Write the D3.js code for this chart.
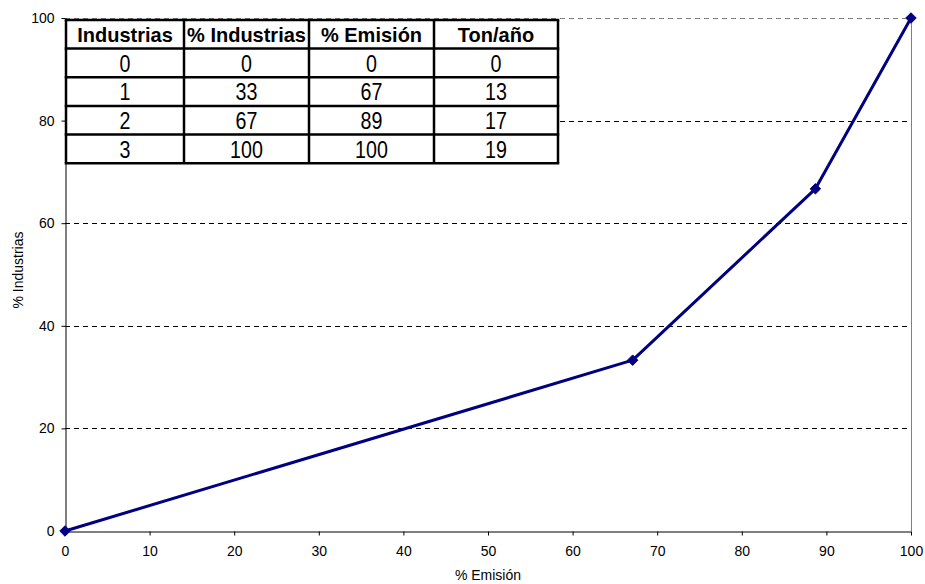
<!DOCTYPE html>
<html>
<head>
<meta charset="utf-8">
<script src="https://cdn.jsdelivr.net/npm/d3@7"></script>
<style>
  html, body { margin: 0; padding: 0; background: #fff; }
  svg { display: block; font-family: "Liberation Sans", Arial, sans-serif; }
</style>
</head>
<body>
<svg id="chart" width="925" height="584"></svg>
<script>
// Cumulative curve: % of emission vs % of industries
const emissionPct = [0, 67.1, 88.7, 100];
const industryPct = [0, 33.3, 66.7, 100];

// Summary table
const tableHeader = ["Industrias", "% Industrias", "% Emisión", "Ton/año"];
const colIndustrias = ["0", "1", "2", "3"];
const colPctIndustrias = ["0", "33", "67", "100"];
const colPctEmision = ["0", "67", "89", "100"];
const colTonAnio = ["0", "13", "17", "19"];

const xTicks = [0, 10, 20, 30, 40, 50, 60, 70, 80, 90, 100];
const yTicks = [0, 20, 40, 60, 80, 100];

const svg = d3.select("#chart");
const plotL = 65, plotR = 911, plotT = 18, plotB = 531;

const x = d3.scaleLinear().domain([0, 100]).range([plotL, plotR]);
const y = d3.scaleLinear().domain([0, 100]).range([plotB, plotT]);

// dashed horizontal gridlines
svg.append("g").selectAll("line")
  .data(yTicks.filter(d => d > 0))
  .join("line")
  .attr("x1", plotL).attr("x2", plotR)
  .attr("y1", d => Math.round(y(d)) + 0.5).attr("y2", d => Math.round(y(d)) + 0.5)
  .attr("stroke", d => d === 100 ? "#808080" : "#000")
  .attr("stroke-width", 1)
  .attr("stroke-dasharray", "5,4");

// right frame edge
svg.append("line")
  .attr("x1", plotR + 0.5).attr("x2", plotR + 0.5)
  .attr("y1", plotT).attr("y2", plotB)
  .attr("stroke", "#808080");

// axes
const xAxis = svg.append("g")
  .attr("transform", `translate(0,${Math.round(plotB) + 0.5})`)
  .call(d3.axisBottom(x).tickValues(xTicks).tickSize(4).tickPadding(11).tickSizeOuter(0));
const yAxis = svg.append("g")
  .attr("transform", `translate(${plotL + 0.5},0)`)
  .call(d3.axisLeft(y).tickValues(yTicks).tickSize(4).tickPadding(7).tickSizeOuter(0));

[xAxis, yAxis].forEach(a => {
  a.select(".domain").attr("stroke", "#000");
  a.selectAll(".tick line").attr("stroke", "#000");
  a.selectAll(".tick text")
    .attr("fill", "#000")
    .style("font-family", "'Liberation Sans', Arial, sans-serif")
    .style("font-size", "14px");
});

// axis titles
svg.append("text")
  .attr("x", (plotL + plotR) / 2).attr("y", 580)
  .attr("text-anchor", "middle")
  .style("font-size", "14px")
  .text("% Emisión");
svg.append("text")
  .attr("transform", `translate(23,270) rotate(-90)`)
  .attr("text-anchor", "middle")
  .style("font-size", "14px")
  .text("% Industrias");

// curve
const pts = emissionPct.map((e, i) => [e, industryPct[i]]);
svg.append("path")
  .datum(pts)
  .attr("fill", "none")
  .attr("stroke", "#000080")
  .attr("stroke-width", 3)
  .attr("stroke-linejoin", "round")
  .attr("d", d3.line().x(d => x(d[0])).y(d => y(d[1])));

svg.append("g").selectAll("path")
  .data(pts)
  .join("path")
  .attr("transform", d => `translate(${x(d[0])},${y(d[1])})`)
  .attr("d", d3.symbol().type(d3.symbolDiamond2).size(70))
  .attr("fill", "#000080")
  .attr("stroke", "#000080")
  .attr("stroke-width", 1);

// table
const colEdges = [66, 184, 309, 434, 558];
const rowEdges = [20, 48.6, 77.3, 106, 134.6, 163.3];
const rows = [tableHeader].concat(colIndustrias.map((v, i) =>
  [v, colPctIndustrias[i], colPctEmision[i], colTonAnio[i]]));

const tbl = svg.append("g");
tbl.append("rect")
  .attr("x", colEdges[0]).attr("y", rowEdges[0])
  .attr("width", colEdges[4] - colEdges[0]).attr("height", rowEdges[5] - rowEdges[0])
  .attr("fill", "#fff");

rows.forEach((r, ri) => {
  const cy = (rowEdges[ri] + rowEdges[ri + 1]) / 2;
  r.forEach((t, ci) => {
    const cx = (colEdges[ci] + colEdges[ci + 1]) / 2;
    const txt = tbl.append("text")
      .attr("text-anchor", "middle")
      .style("font-family", "'Liberation Sans', Arial, sans-serif")
      .text(t);
    if (ri === 0) {
      txt.attr("transform", `translate(${cx},${cy + 7.5}) scale(1,1.05)`)
        .style("font-size", "20px")
        .style("font-weight", "bold");
    } else {
      txt.attr("transform", `translate(${cx},${cy + 8.6}) scale(0.82,1)`)
        .style("font-size", "24px");
    }
  });
});

tbl.selectAll("line.h").data(rowEdges).join("line")
  .attr("x1", colEdges[0] - 1.25).attr("x2", colEdges[4] + 1.25)
  .attr("y1", d => d).attr("y2", d => d)
  .attr("stroke", "#000").attr("stroke-width", 2.5);
tbl.selectAll("line.v").data(colEdges).join("line")
  .attr("y1", rowEdges[0]).attr("y2", rowEdges[5])
  .attr("x1", d => d).attr("x2", d => d)
  .attr("stroke", "#000").attr("stroke-width", 2.5);
</script>
</body>
</html>
